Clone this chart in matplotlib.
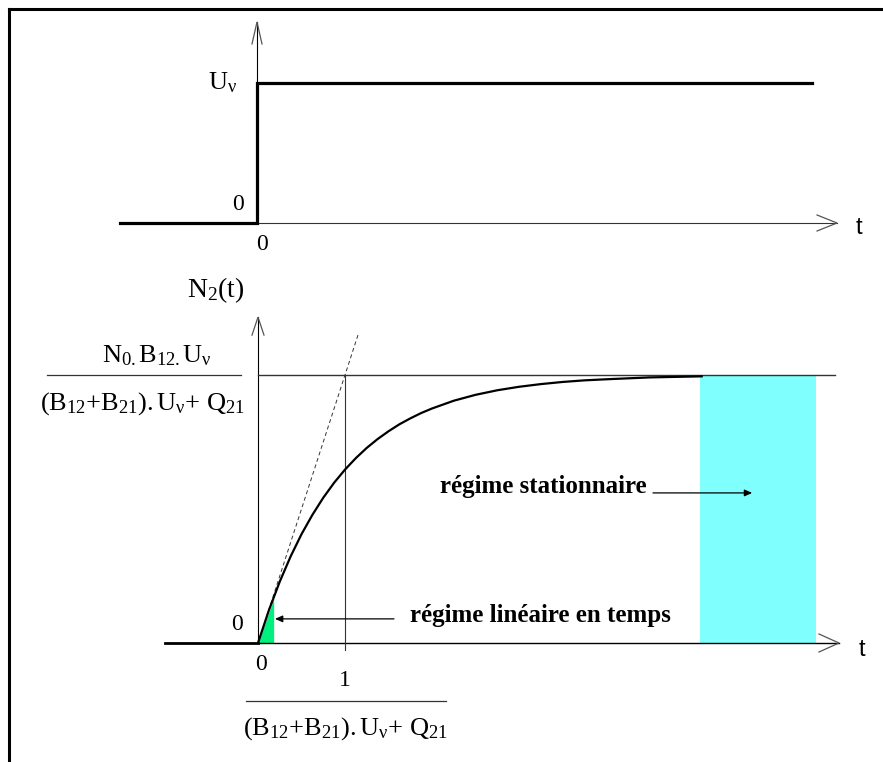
import numpy as np
import matplotlib
matplotlib.use("Agg")
import matplotlib.pyplot as plt
from matplotlib.lines import Line2D

plt.rcParams['font.family'] = ['Liberation Serif', 'DejaVu Serif']
plt.rcParams['mathtext.fontset'] = 'custom'
plt.rcParams['mathtext.rm'] = 'Liberation Serif'
plt.rcParams['mathtext.it'] = 'Liberation Serif:italic'
plt.rcParams['mathtext.bf'] = 'Liberation Serif:bold'

W, H = 883, 762
TAU_PX = 87.0          # pixels per unit of reduced time

# excitation U(t): step at t = 0
step_t = [-1.575, 0.0, 0.0, 6.38]
step_u = [0.0, 0.0, 1.0, 1.0]

# population N2(t) / N2(stationary), t in units of 1/((B12+B21).Uv+Q21)
n2_t = [0.0, 0.125, 0.25, 0.375, 0.5, 0.625, 0.75, 0.875, 1.0, 1.125, 1.25,
        1.375, 1.5, 1.625, 1.75, 1.875, 2.0, 2.25, 2.5, 2.75, 3.0, 3.25,
        3.5, 3.75, 4.0, 4.5, 5.1]
n2_v = [0.0, 0.122, 0.229, 0.323, 0.406, 0.478, 0.542, 0.598, 0.647, 0.690,
        0.728, 0.761, 0.790, 0.816, 0.838, 0.858, 0.875, 0.904, 0.926, 0.943,
        0.956, 0.966, 0.974, 0.980, 0.984, 0.991, 0.995]
n2_before = [-1.07, 0.0]          # N2 = 0 before the step
lin_t = [0.0, 0.18]               # linear regime
lin_v = [0.0, 0.165]
stat_t = [5.08, 6.41]             # stationary regime
tangent_t = [0.0, 1.15]
tangent_v = [0.0, 1.15]
t_end = 6.63                      # end of the stationary level line

fig = plt.figure(figsize=(W / 100, H / 100), dpi=100)


def panel(name, x0, y0, y_unit):
    ax = fig.add_axes([0, 0, 1, 1], label=name)
    ax.set_xlim(-x0 / TAU_PX, (W - x0) / TAU_PX)
    ax.set_ylim((y0 - H) / y_unit, y0 / y_unit)
    ax.axis('off')
    ax.patch.set_alpha(0)
    return ax


def open_head(ax, y_unit, tip, direction, length, half):
    # V shaped arrow head, sizes in pixels
    sx = 1.0 / TAU_PX
    sy = 1.0 / y_unit
    x, y = tip
    if direction == 'right':
        xs = [x - length * sx, x, x - length * sx]
        ys = [y + half * sy, y, y - half * sy]
    else:
        xs = [x - half * sx, x, x + half * sx]
        ys = [y - length * sy, y, y - length * sy]
    ax.plot(xs, ys, color='#555555', lw=0.9, solid_joinstyle='miter')


thin = dict(color='black', lw=0.8)
lbl = dict(textcoords='offset pixels', fontsize=17)
frm = dict(textcoords='offset pixels', fontsize=19)
sans = dict(textcoords='offset pixels', fontsize=17, family='Liberation Sans')
nu = r'\mathrm{\nu}'

# ---- top: U(t)
ax1 = panel('top', 257, 223, 140)
ax1.plot([0, 0], [0, 1.436], **thin)
ax1.plot([0, 6.667], [0, 0], color='#333333', lw=0.8)
ax1.plot(step_t, step_u, color='black', lw=2.3, solid_joinstyle='miter')
open_head(ax1, 140, (6.667, 0), 'right', 20, 8)
open_head(ax1, 140, (0, 1.436), 'up', 22, 5)

ax1.annotate(r'$\mathrm{U}_{%s}$' % nu, (0, 1), xytext=(-20, -6), ha='right',
             va='baseline', **frm)
ax1.annotate('0', (0, 0), xytext=(-19, 18), ha='center', va='center', **lbl)
ax1.annotate('0', (0, 0), xytext=(5, -22), ha='center', va='center', **lbl)
ax1.annotate('t', (6.667, 0), xytext=(22, -5), ha='center', va='center', **sans)

# ---- bottom: N2(t)
ax2 = panel('bottom', 258, 643, 268)
ax2.fill_between(stat_t, 0, 1, color='#80ffff', lw=0, zorder=0)
ax2.fill_between(lin_t, 0, lin_v, color='#00f080', lw=0, zorder=0)
ax2.plot([0, 0], [0, 1.216], **thin)
ax2.plot([0, 6.678], [0, 0], color='black', lw=1.0)
ax2.plot(n2_before, [0, 0], color='black', lw=2.0)
ax2.plot([0, t_end], [1, 1], color='#333333', lw=1.0)
ax2.plot([1, 1], [-0.026, 1], color='#333333', lw=0.8)
ax2.plot(tangent_t, tangent_v, color='#333333', lw=0.7, ls=(0, (4, 3)))
ax2.plot(n2_t, n2_v, color='black', lw=1.6, solid_joinstyle='round')
open_head(ax2, 268, (6.678, 0), 'right', 20, 9)
open_head(ax2, 268, (0, 1.216), 'up', 18, 6)

denom = r'$\mathrm{(B}_{12}\mathrm{+B}_{21}\mathrm{){.}U}_{%s}\mathrm{+\ Q}_{21}$' % nu
ax2.annotate(r'$\mathrm{N}_{2}\mathrm{(t)}$', (0, 1.216), xytext=(-42, 27),
             ha='center', va='center', textcoords='offset pixels', fontsize=20)
ax2.annotate(r'$\mathrm{N}_{0{.}}\mathrm{B}_{12{.}}\mathrm{U}_{%s}$' % nu, (0, 1),
             xytext=(-101, 13), ha='center', va='baseline', **frm)
ax2.annotate(denom, (0, 1), xytext=(-116, -35), ha='center', va='baseline', **frm)
ax2.annotate('0', (0, 0), xytext=(-21, 18), ha='center', va='center', **lbl)
ax2.annotate('0', (0, 0), xytext=(3, -22), ha='center', va='center', **lbl)
ax2.annotate('1', (1, 0), xytext=(0, -37), ha='center', va='center', **lbl)
ax2.annotate(denom, (1, 0), xytext=(0, -92), ha='center', va='baseline', **frm)
ax2.annotate('t', (6.678, 0), xytext=(23, -7), ha='center', va='center', **sans)

# fraction bars
for x1, x2, y in [(47, 241, 375), (246, 446, 701)]:
    fig.add_artist(Line2D([x1 / W, x2 / W], [1 - y / H, 1 - y / H],
                          transform=fig.transFigure, color='#333333', lw=0.9))

# regime annotations
head = dict(arrowstyle='-|>,head_length=0.45,head_width=0.2',
            color='black', lw=0.9, shrinkA=0, shrinkB=0)
ax2.text((410 - 258) / TAU_PX, (643 - 622) / 268, 'régime linéaire en temps',
         fontsize=18, fontweight='bold', ha='left', va='baseline')
ax2.annotate('', xy=(0.195, 0.09), xytext=(1.563, 0.09), arrowprops=head)
ax2.text((440 - 258) / TAU_PX, (643 - 493) / 268, 'régime stationnaire',
         fontsize=18, fontweight='bold', ha='left', va='baseline')
ax2.annotate('', xy=(5.68, 0.56), xytext=(4.54, 0.56), arrowprops=head)

# frame
for xs, ys in [([9 / W, 9 / W], [0, 1 - 9 / H]), ([9 / W, 1], [1 - 9 / H, 1 - 9 / H])]:
    fig.add_artist(Line2D(xs, ys, transform=fig.transFigure, color='black',
                          lw=2.2, solid_capstyle='projecting'))

fig.savefig('out.png', dpi=100, facecolor='white')
